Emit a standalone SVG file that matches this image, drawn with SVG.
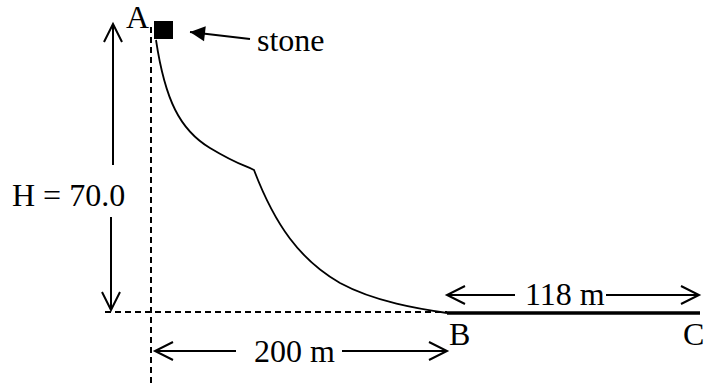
<svg xmlns="http://www.w3.org/2000/svg" width="704" height="385" viewBox="0 0 704 385">
<defs>
<style>
text{font-family:"Liberation Serif","Times New Roman",serif;font-size:32px;fill:#000}
.dash{stroke:#000;stroke-width:2;stroke-dasharray:6,4;fill:none}
.arr{stroke:#000;stroke-width:2;fill:none}
</style>
<marker id="open" markerUnits="userSpaceOnUse" markerWidth="24" markerHeight="24" viewBox="-20 -12 24 24" refX="0" refY="0" orient="auto">
<path d="M-18,-9 L0,0 L-18,9" fill="none" stroke="#000" stroke-width="2"/>
</marker>
<marker id="solid" markerUnits="userSpaceOnUse" markerWidth="20" markerHeight="20" viewBox="-16 -10 20 20" refX="0" refY="0" orient="auto">
<path d="M-15,-7.5 L0,0 L-15,7.5 Z" fill="#000"/>
</marker>
</defs>
<rect width="704" height="385" fill="#fff"/>
<g id="guides">
<line class="dash" x1="151" y1="27" x2="151" y2="385"/>
<line class="dash" x1="105" y1="312" x2="447" y2="312"/>
</g>
<g id="A">
<text x="126" y="28">A</text>
<rect x="154" y="21" width="19" height="18" fill="#000"/>
</g>
<g id="stone">
<text x="257" y="51">stone</text>
</g>
<g id="slope">
<path d="M156,40 C165,100 180,130 210,148 S245,165 254,170 C275,225 300,260 340,283 C375,302 420,309 447,313" fill="none" stroke="#000" stroke-width="1.8"/>
</g>
<g id="B">
<text x="449" y="345">B</text>
</g>
<g id="C">
<text x="683" y="345">C</text>
</g>
<g id="BC">
<line x1="447" y1="313" x2="700" y2="313" stroke="#000" stroke-width="3.5"/>
</g>
<g id="H">
<text x="12" y="206">H = 70.0</text>
</g>
<g id="dist200">
<text x="254" y="362">200 m</text>
</g>
<g id="dist118">
<text x="525" y="305">118 m</text>
</g>
<g id="connectors">
<line class="arr" x1="113" y1="165" x2="113" y2="24" marker-end="url(#open)"/>
<line class="arr" x1="111" y1="217" x2="111" y2="310" marker-end="url(#open)"/>
<line class="arr" x1="236" y1="351" x2="155" y2="351" marker-end="url(#open)"/>
<line class="arr" x1="342" y1="351" x2="447" y2="351" marker-end="url(#open)"/>
<line class="arr" x1="515" y1="295" x2="447" y2="295" marker-end="url(#open)"/>
<line class="arr" x1="606" y1="295" x2="699" y2="295" marker-end="url(#open)"/>
<line class="arr" x1="250" y1="39" x2="190" y2="32" marker-end="url(#solid)"/>
</g>
</svg>
